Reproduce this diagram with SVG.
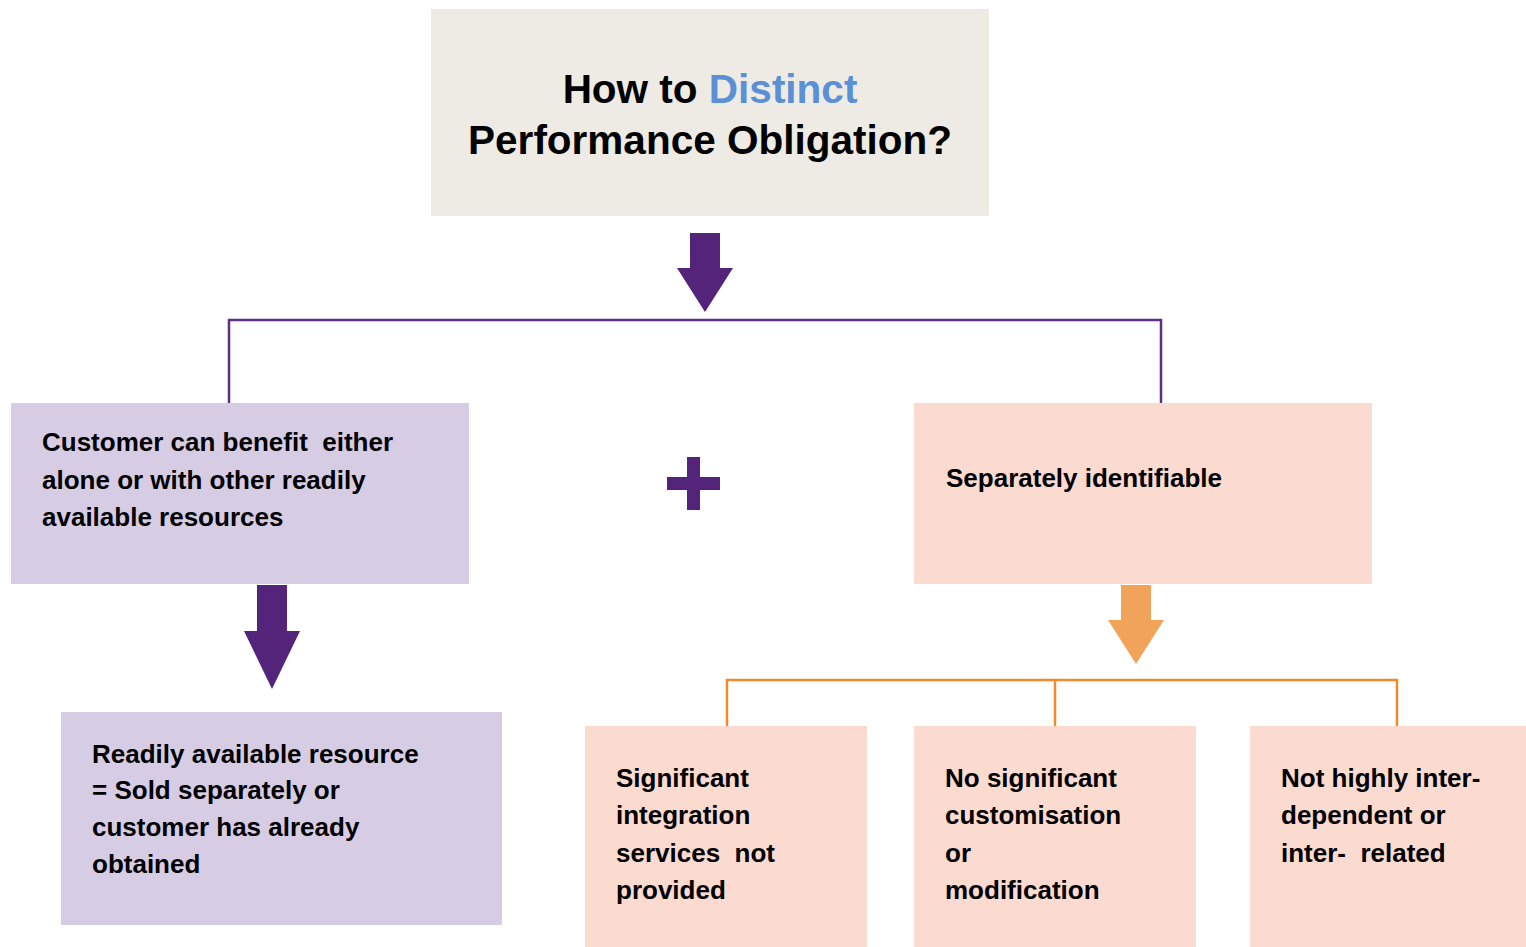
<svg xmlns="http://www.w3.org/2000/svg" width="1526" height="947" viewBox="0 0 1526 947">
  <style>
    text { font-family: "Liberation Sans", Arial, sans-serif; font-weight: bold; fill: #000; }
    .body { font-size: 26px; }
    .title { font-size: 40.5px; }
    .accent { fill: #5B8FD6; }
    .lilac { fill: #D6CCE4; }
    .peach { fill: #FBDAD0; }
    .stone { fill: #EEEBE4; }
    .purple-line { fill: none; stroke: #5E2E8C; stroke-width: 2.5; }
    .orange-line { fill: none; stroke: #F08A2E; stroke-width: 2.5; }
    .purple-arrow { fill: #54237A; }
    .orange-arrow { fill: #F2A35A; }
  </style>
  <rect width="1526" height="947" fill="#FFFFFF"/>

  <!-- connectors -->
  <g id="connectors">
    <polygon class="purple-arrow" points="690,233 720,233 720,268 733,268 705,312 677,268 690,268"/>
    <polyline class="purple-line" points="229,403 229,320 1161,320 1161,403"/>
    <polygon class="purple-arrow" points="257,585 287,585 287,631 300,631 272,689 244,631 257,631"/>
    <polygon class="orange-arrow" points="1121,585 1151,585 1151,620 1164,620 1136,664 1108,620 1121,620"/>
    <polyline class="orange-line" points="727,726 727,680 1397,680 1397,726"/>
    <line class="orange-line" x1="1055" y1="680" x2="1055" y2="726"/>
    <!-- plus sign between the two criteria -->
    <path class="purple-arrow" d="M687,457 H700 V477 H720 V490 H700 V510 H687 V490 H667 V477 H687 Z"/>
  </g>

  <g id="title">
    <rect class="stone" x="431" y="9" width="558" height="207"/>
    <text class="title" x="710" y="103" text-anchor="middle">How to <tspan class="accent">Distinct</tspan></text>
    <text class="title" x="710" y="154" text-anchor="middle">Performance Obligation?</text>
  </g>

  <g id="benefit">
    <rect class="lilac" x="11" y="403" width="458" height="181"/>
    <text class="body" x="42" y="451" xml:space="preserve">Customer can benefit  either</text>
    <text class="body" x="42" y="489">alone or with other readily</text>
    <text class="body" x="42" y="526">available resources</text>
  </g>

  <g id="readily-available">
    <rect class="lilac" x="61" y="712" width="441" height="213"/>
    <text class="body" x="92" y="763">Readily available resource</text>
    <text class="body" x="92" y="799">= Sold separately or</text>
    <text class="body" x="92" y="836">customer has already</text>
    <text class="body" x="92" y="873">obtained</text>
  </g>

  <g id="separately-identifiable">
    <rect class="peach" x="914" y="403" width="458" height="181"/>
    <text class="body" x="946" y="487">Separately identifiable</text>
  </g>

  <g id="integration">
    <rect class="peach" x="585" y="726" width="282" height="221"/>
    <text class="body" x="616" y="787">Significant</text>
    <text class="body" x="616" y="824">integration</text>
    <text class="body" x="616" y="862" xml:space="preserve">services  not</text>
    <text class="body" x="616" y="899">provided</text>
  </g>

  <g id="customisation">
    <rect class="peach" x="914" y="726" width="282" height="221"/>
    <text class="body" x="945" y="787">No significant</text>
    <text class="body" x="945" y="824">customisation</text>
    <text class="body" x="945" y="862">or</text>
    <text class="body" x="945" y="899">modification</text>
  </g>

  <g id="interdependence">
    <rect class="peach" x="1250" y="726" width="276" height="221"/>
    <text class="body" x="1281" y="787">Not highly inter-</text>
    <text class="body" x="1281" y="824">dependent or</text>
    <text class="body" x="1281" y="862" xml:space="preserve">inter-  related</text>
  </g>
</svg>
